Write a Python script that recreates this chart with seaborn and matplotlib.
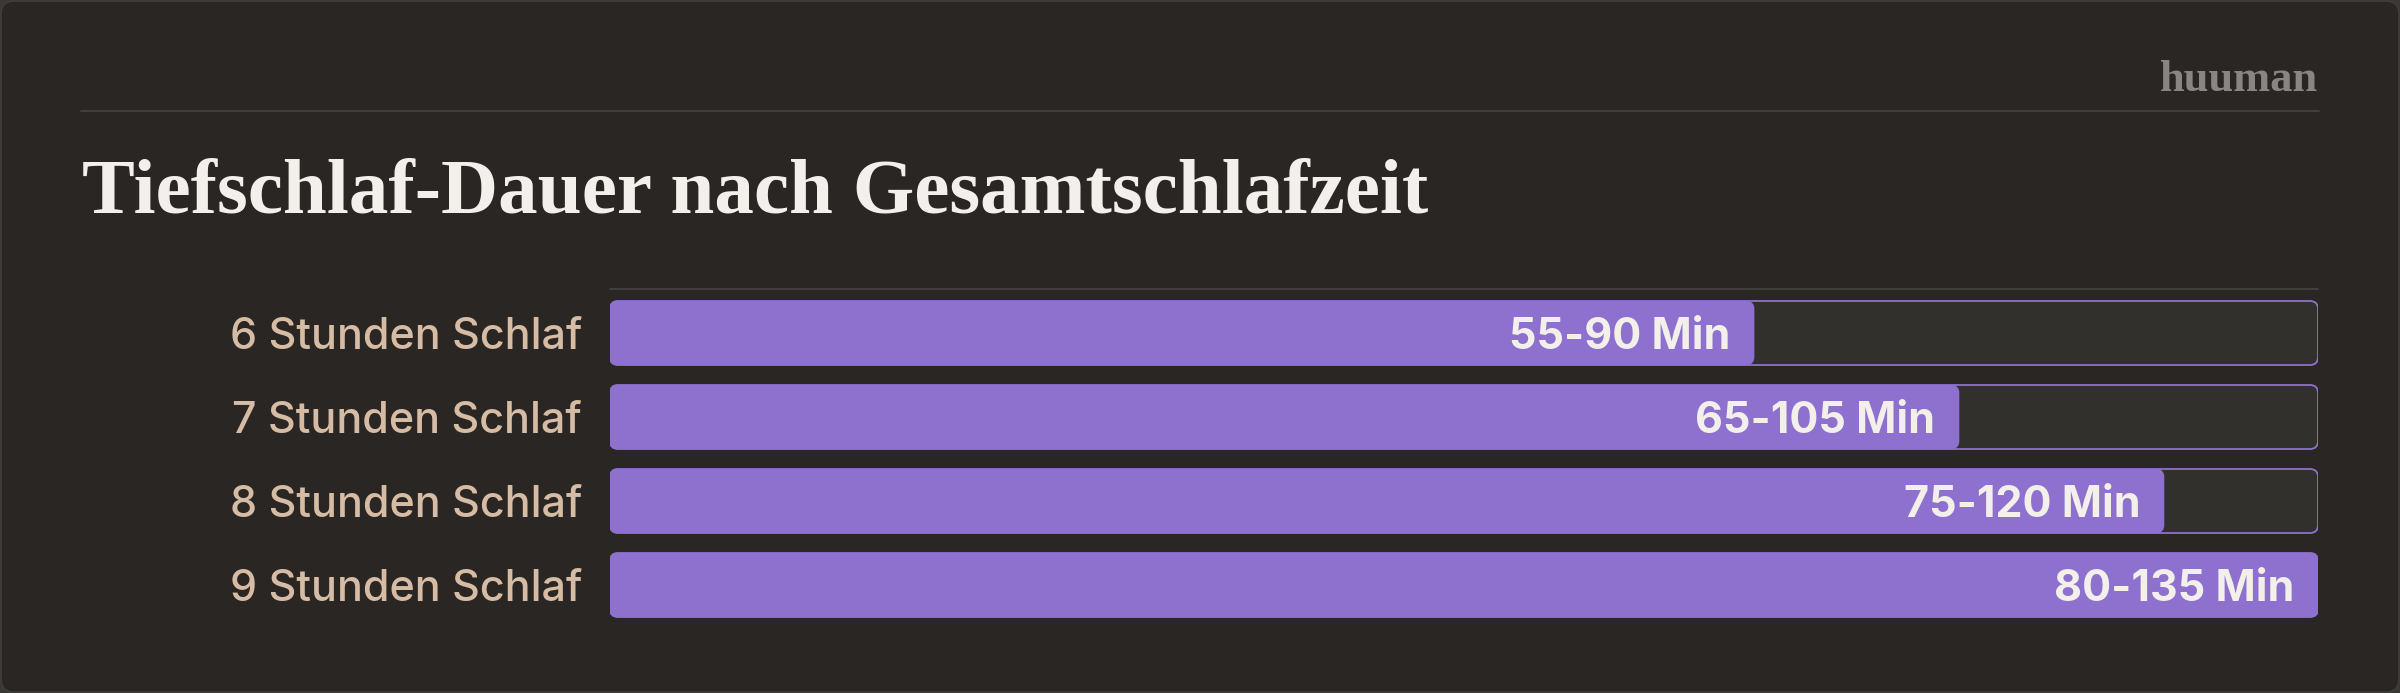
import matplotlib
matplotlib.use("Agg")
import matplotlib.pyplot as plt
from matplotlib.patches import FancyBboxPatch, Rectangle
from matplotlib.lines import Line2D
import seaborn as sns
import pandas as pd

# ---- data ----
categories = ["6 Stunden Schlaf", "7 Stunden Schlaf", "8 Stunden Schlaf", "9 Stunden Schlaf"]
bar_pct = [67, 79, 91, 100]          # bar length (% of track)
value_labels = ["55-90 Min", "65-105 Min", "75-120 Min", "80-135 Min"]
title = "Tiefschlaf-Dauer nach Gesamtschlafzeit"
brand = "huuman"
track_max = 100

df = pd.DataFrame({"cat": categories, "pct": bar_pct, "track": [track_max] * len(categories)})

BG = "#2a2623"
OUTER = "#3a3835"
PURPLE = "#8e71cf"
TRACK = "#32302d"
LINE = "#45413d"
LABEL = "#d6bca4"
WHITE = "#f3efea"
GREY = "#8a8581"

sns.set_theme(style="white")
plt.rcParams["font.family"] = ["Inter", "DejaVu Sans"]

W, H, DPI = 24, 6.93, 100
fig = plt.figure(figsize=(W, H), dpi=DPI)
fig.patch.set_facecolor(OUTER)

card = FancyBboxPatch((0.01, 0.01), W - 0.02, H - 0.02,
                      boxstyle="round,pad=0,rounding_size=0.13",
                      transform=fig.dpi_scale_trans, facecolor=BG,
                      edgecolor="#403d3a", linewidth=1.2, zorder=-5)
fig.patches.append(card)

# axes placement (pixels)
ax_l, ax_r = 610, 2318
ax_t, ax_b = 291, 627
ax = fig.add_axes([ax_l / 2400, 1 - ax_b / 693, (ax_r - ax_l) / 2400, (ax_b - ax_t) / 693])
ax.set_facecolor("none")
ax.set_zorder(2)

sns.barplot(data=df, y="cat", x="track", color=TRACK, width=0.762, ax=ax,
            orient="h", saturation=1, edgecolor=PURPLE, linewidth=1.3)
n_track = len(ax.patches)
sns.barplot(data=df, y="cat", x="pct", color=PURPLE, width=0.762, ax=ax,
            orient="h", saturation=1, linewidth=0)

ax.set_xlim(0, track_max)
ax.set_ylim(len(categories) - 0.5, -0.5)
ax.set_xlabel("")
ax.set_ylabel("")
ax.set_xticks([])
for s in ax.spines.values():
    s.set_visible(False)
ax.tick_params(axis="y", length=0, pad=20)
for t in ax.get_yticklabels():
    t.set_color(LABEL)
    t.set_fontsize(31)
    t.set_fontweight("medium")
    t.set_fontfamily(["Inter", "DejaVu Sans"])

# round the bar corners
xpp = track_max / (ax_r - ax_l)
ypp = len(categories) / (ax_b - ax_t)
r_px = 8
rects = [p for p in ax.patches if isinstance(p, Rectangle)]
for i, p in enumerate(rects):
    x0, y0, w, h = p.get_x(), p.get_y(), p.get_width(), p.get_height()
    fb = FancyBboxPatch((x0, y0), w, h,
                        boxstyle=f"round,pad=0,rounding_size={r_px * xpp}",
                        mutation_aspect=ypp / xpp,
                        facecolor=p.get_facecolor(), edgecolor=p.get_edgecolor(),
                        linewidth=p.get_linewidth(), zorder=1 if i < n_track else 1.5)
    p.remove()
    ax.add_patch(fb)

# value labels
for i, (v, lab) in enumerate(zip(bar_pct, value_labels)):
    ax.annotate(lab, xy=(v, i), xytext=(-24 * 72 / DPI, 0), textcoords="offset points",
                ha="right", va="center_baseline", color=WHITE, fontsize=31,
                fontweight="bold", family=["Inter", "DejaVu Sans"], zorder=5)

# header line, chart top line
fig.add_artist(Line2D([81 / 2400, 2319 / 2400], [1 - 111 / 693] * 2, color=LINE, lw=1.3))
fig.add_artist(Line2D([ax_l / 2400, ax_r / 2400], [1 - 289 / 693] * 2, color=LINE, lw=1.3))

# title & brand
fig.text(82 / 2400, 1 - 213 / 693, title, ha="left", va="baseline", color=WHITE,
         fontsize=57, fontweight="bold", family=["Liberation Serif", "DejaVu Serif"])
fig.text(2318 / 2400, 1 - 91 / 693, brand, ha="right", va="baseline", color=GREY,
         fontsize=32, fontweight="bold", family=["Liberation Serif", "DejaVu Serif"])

fig.savefig("out.png", dpi=DPI, facecolor=fig.get_facecolor())
